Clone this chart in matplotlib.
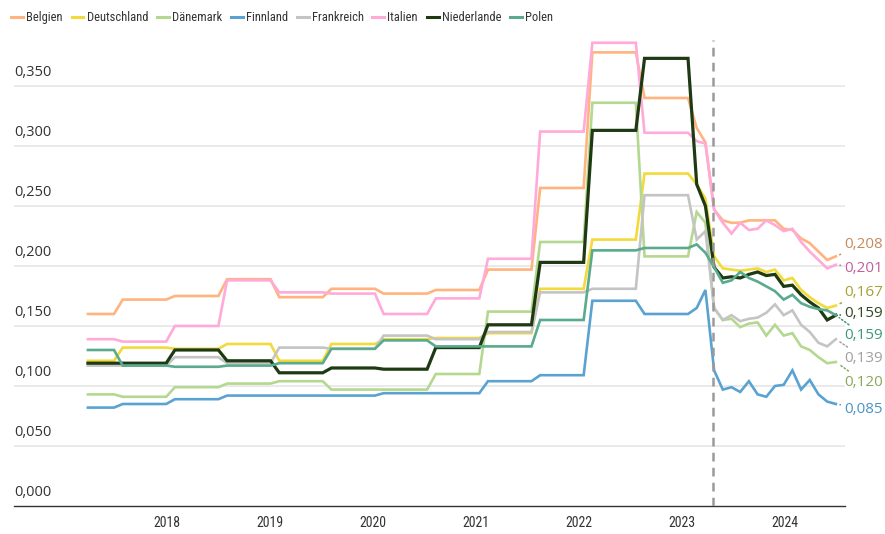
import numpy as np
import matplotlib
matplotlib.use("Agg")
import matplotlib.pyplot as plt
from matplotlib import font_manager
from matplotlib.lines import Line2D

# Daten: bis 2023 halbjaehrlich (erste Periode 4 Monate), danach monatlich
seg_counts = [4] + [6] * 11

countries = ["Belgien", "Deutschland", "Dänemark", "Finnland",
             "Frankreich", "Italien", "Niederlande", "Polen"]

belgien_half = [0.160, 0.172, 0.175, 0.189, 0.174, 0.181, 0.177, 0.180, 0.197, 0.265, 0.378, 0.340]
belgien_month = [0.315, 0.303, 0.247, 0.238, 0.236, 0.236, 0.238, 0.238, 0.238, 0.238,
                 0.231, 0.230, 0.223, 0.219, 0.212, 0.205, 0.208]

deutschland_half = [0.121, 0.132, 0.131, 0.135, 0.121, 0.135, 0.139, 0.140, 0.144, 0.181, 0.222, 0.277]
deutschland_month = [0.268, 0.256, 0.208, 0.198, 0.197, 0.196, 0.197, 0.198, 0.195, 0.197,
                     0.188, 0.190, 0.180, 0.174, 0.169, 0.165, 0.167]

daenemark_half = [0.093, 0.091, 0.099, 0.102, 0.104, 0.097, 0.097, 0.110, 0.162, 0.220, 0.336, 0.208]
daenemark_month = [0.245, 0.236, 0.165, 0.155, 0.156, 0.149, 0.152, 0.153, 0.142, 0.151,
                   0.142, 0.144, 0.133, 0.130, 0.124, 0.119, 0.120]

finnland_half = [0.082, 0.085, 0.089, 0.092, 0.092, 0.092, 0.094, 0.094, 0.104, 0.109, 0.171, 0.160]
finnland_month = [0.165, 0.180, 0.113, 0.097, 0.099, 0.095, 0.104, 0.093, 0.091, 0.100,
                  0.101, 0.113, 0.097, 0.105, 0.093, 0.087, 0.085]

frankreich_half = [0.117, 0.117, 0.124, 0.119, 0.132, 0.131, 0.142, 0.139, 0.145, 0.178, 0.181, 0.259]
frankreich_month = [0.222, 0.229, 0.165, 0.155, 0.159, 0.154, 0.156, 0.157, 0.161, 0.168,
                    0.159, 0.163, 0.151, 0.145, 0.136, 0.133, 0.139]

italien_half = [0.139, 0.137, 0.150, 0.188, 0.178, 0.177, 0.160, 0.173, 0.206, 0.312, 0.386, 0.311]
italien_month = [0.304, 0.302, 0.247, 0.236, 0.227, 0.236, 0.230, 0.231, 0.238, 0.234,
                 0.229, 0.231, 0.220, 0.212, 0.205, 0.198, 0.201]

niederlande_half = [0.119, 0.119, 0.130, 0.121, 0.111, 0.115, 0.114, 0.132, 0.151, 0.203, 0.313, 0.373]
niederlande_month = [0.268, 0.250, 0.199, 0.190, 0.191, 0.190, 0.193, 0.195, 0.192, 0.193,
                     0.183, 0.184, 0.176, 0.170, 0.165, 0.155, 0.159]

polen_half = [0.130, 0.117, 0.116, 0.117, 0.119, 0.131, 0.138, 0.133, 0.133, 0.155, 0.213, 0.215]
polen_month = [0.218, 0.211, 0.199, 0.186, 0.188, 0.195, 0.190, 0.187, 0.183, 0.179,
               0.172, 0.176, 0.169, 0.166, 0.164, 0.163, 0.159]

end_labels = ["0,208", "0,167", "0,120", "0,085", "0,139", "0,201", "0,159", "0,159"]
year_labels = ["2018", "2019", "2020", "2021", "2022", "2023", "2024"]

half_data = [belgien_half, deutschland_half, daenemark_half, finnland_half,
             frankreich_half, italien_half, niederlande_half, polen_half]
month_data = [belgien_month, deutschland_month, daenemark_month, finnland_month,
              frankreich_month, italien_month, niederlande_month, polen_month]

# Stil
line_colors = ["#ffb47f", "#f2da3a", "#b4d890", "#5aa3d0",
               "#c4c4c4", "#ffaad8", "#1e3a12", "#5aaa8e"]
label_colors = ["#c88a5c", "#aaa032", "#8aa85a", "#4a94c4",
                "#a0a0a0", "#c0609c", "#2e4a22", "#3e9a7a"]
line_widths = [1.9, 1.9, 1.9, 1.9, 1.9, 1.9, 2.3, 1.9]
label_pos = [0.2183, 0.1783, 0.1033, 0.0808, 0.1233, 0.1983, 0.1600, 0.1417]
year_ticks = [9.1, 20.95, 32.8, 44.6, 56.45, 68.35, 80.2]
cut_month = 71.85


def pick_font(names):
    available = {f.name for f in font_manager.fontManager.ttflist}
    for n in names:
        if n in available:
            return n
    return "DejaVu Sans"


main_font = pick_font(["Open Sans", "DejaVu Sans"])
narrow_font = pick_font(["Liberation Sans Narrow", "Roboto Condensed", "Open Sans Condensed",
                         "Roboto", "Liberation Sans"])
plt.rcParams["font.family"] = [main_font, "DejaVu Sans"]

fig = plt.figure(figsize=(8.85, 5.34), dpi=100)
ax = fig.add_axes([14 / 885, 28 / 534, 831 / 885, 466 / 534])

series_all = []
for name, h, m, c, lw in zip(countries, half_data, month_data, line_colors, line_widths):
    series = np.concatenate([np.repeat(h, seg_counts), m])
    series_all.append(series)
    x = np.arange(len(series))
    ax.plot(x, series, color=c, lw=lw, solid_joinstyle="miter", zorder=3, label=name)

ax.axvline(cut_month, color="#9a9a9a", lw=1.8, ls=(0, (3.5, 2.5)), zorder=4)

ax.set_xlim(-8.5, 87.05)
ax.set_ylim(0, 0.3883)

# Gitter und Y-Beschriftung ueber den Linien
yt = np.arange(0, 0.351, 0.05)
for v in yt:
    if v > 0:
        ax.axhline(v, color="#e8e8e8", lw=1.3, zorder=1)
    ax.annotate(f"{v:.3f}".replace(".", ","), xy=(0, v), xycoords=("axes fraction", "data"),
                xytext=(0, 4), textcoords="offset points", ha="left", va="bottom",
                fontsize=10.5, color="#333333")

for s in ["top", "right", "left"]:
    ax.spines[s].set_visible(False)
ax.spines["bottom"].set_color("#333333")
ax.spines["bottom"].set_linewidth(1.0)
ax.set_yticks([])
ax.set_xticks(year_ticks)
ax.set_xticklabels(year_labels, fontsize=10, color="#333333", family=[narrow_font, "DejaVu Sans"])
ax.tick_params(axis="x", length=0, pad=7)

# Endwerte mit gepunkteten Verbindungslinien
last_x = len(series_all[0]) - 1
for m, txt, lc, ly in zip(month_data, end_labels, label_colors, label_pos):
    ax.annotate(txt, xy=(last_x, m[-1]), xytext=(last_x + 1.0, ly), textcoords="data",
                ha="left", va="center", fontsize=11, color=lc, annotation_clip=False,
                arrowprops=dict(arrowstyle="-", ls=(0, (1, 1.5)), color=lc, lw=1.1,
                                shrinkA=1, shrinkB=3))

handles = [Line2D([0], [0], color=c, lw=2.2) for c in line_colors]
fig.legend(handles, countries, loc="upper left", bbox_to_anchor=(0.0, 1.0), ncol=8,
           frameon=False, handlelength=0.95, handletextpad=0.25, columnspacing=0.7,
           prop={"family": [narrow_font, "DejaVu Sans"], "size": 9}, labelcolor="#333333")

fig.savefig("out.png", dpi=100)
